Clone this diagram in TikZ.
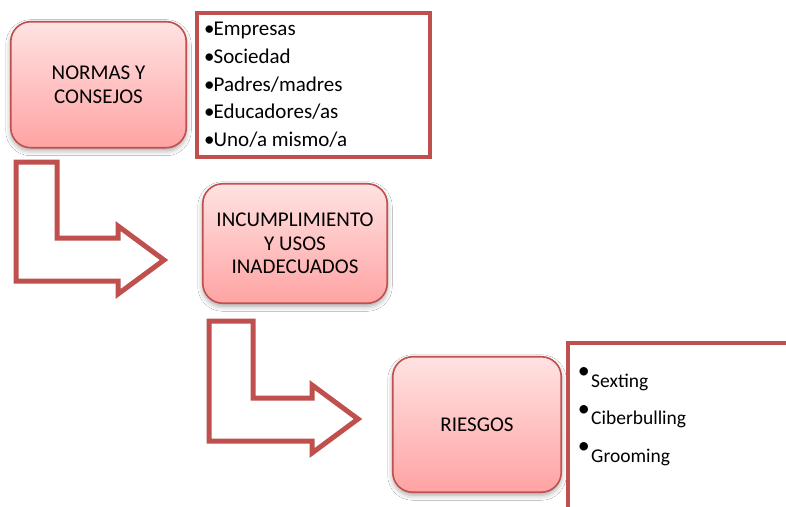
\documentclass[tikz,border=0pt]{standalone}
\usepackage{fontspec}
\setmainfont{Carlito}
\usetikzlibrary{shadows.blur}
\definecolor{accred}{RGB}{192,80,77}
\definecolor{pinktop}{RGB}{255,226,226}
\definecolor{pinkbot}{RGB}{255,163,163}
\begin{document}
\begin{tikzpicture}[x=1pt,y=-1pt,
  roundbox/.style={draw=accred, line width=1.6pt, rounded corners=20pt,
    top color=pinktop, bottom color=pinkbot, align=center, inner sep=0pt,
    font=\fontsize{21}{24}\selectfont,
    blur shadow={shadow xshift=0pt, shadow yshift=-3pt, shadow blur radius=5pt, shadow opacity=35}},
  listbox/.style={draw=accred, line width=4.7pt, fill=white, inner sep=0pt},
  arrowline/.style={draw=accred, line width=5pt, line join=miter, fill=white},
  itemA/.style={anchor=base west, inner sep=0pt, font=\fontsize{21}{24}\selectfont},
  itemB/.style={anchor=base west, inner sep=0pt, font=\fontsize{19.5}{24}\selectfont}]
\useasboundingbox (0,0) rectangle (786,506);
\fill[white] (0,0) rectangle (786,506);

% list box 1
\node[listbox, minimum width=233pt, minimum height=144pt] (lista) at (313.5,85) {};
\node[itemA] (e1) at (204,35) {\makebox[9.5pt][l]{•}Empresas};
\node[itemA] (e2) at (204,63) {\makebox[9.5pt][l]{•}Sociedad};
\node[itemA] (e3) at (204,91) {\makebox[9.5pt][l]{•}Padres/madres};
\node[itemA] (e4) at (204,118.5) {\makebox[9.5pt][l]{•}Educadores/as};
\node[itemA] (e5) at (204,146) {\makebox[9.5pt][l]{•}Uno/a mismo/a};

% rounded boxes
\node[roundbox, minimum width=175.5pt, minimum height=126pt, font=\fontsize{21}{24}\selectfont] (normas) at (98.5,84.7) {NORMAS Y\\CONSEJOS};
\node[roundbox, minimum width=184.5pt, minimum height=119.5pt, font=\fontsize{21}{23.5}\selectfont] (incump) at (295,243.5) {INCUMPLIMIENTO\\Y USOS\\INADECUADOS};
\node[roundbox, minimum width=168.5pt, minimum height=135.5pt] (riesgos) at (477,424.5) {RIESGOS};

% bent arrows
\draw[arrowline] (16,162) -- (57,162) -- (57,238) -- (118,238) -- (118,226) -- (164,260) -- (118,294) -- (118,281) -- (16,281) -- cycle;
\draw[arrowline] (209,321) -- (253,321) -- (253,398) -- (312,398) -- (312,385) -- (358,419) -- (312,453) -- (312,441) -- (209,441) -- cycle;

% list box 3 (open to the right and bottom)
\draw[draw=accred, line width=4.7pt, line join=miter] (568,520) -- (568,343) -- (800,343);
\node[itemB] (s1) at (577.7,387) {\makebox[13.3pt][l]{\raisebox{8.4pt}{\fontsize{24}{24}\selectfont•}}Sexting};
\node[itemB] (s2) at (577.7,424.5) {\makebox[13.3pt][l]{\raisebox{8.4pt}{\fontsize{24}{24}\selectfont•}}Ciberbulling};
\node[itemB] (s3) at (577.7,462) {\makebox[13.3pt][l]{\raisebox{8.4pt}{\fontsize{24}{24}\selectfont•}}Grooming};
\end{tikzpicture}
\end{document}
